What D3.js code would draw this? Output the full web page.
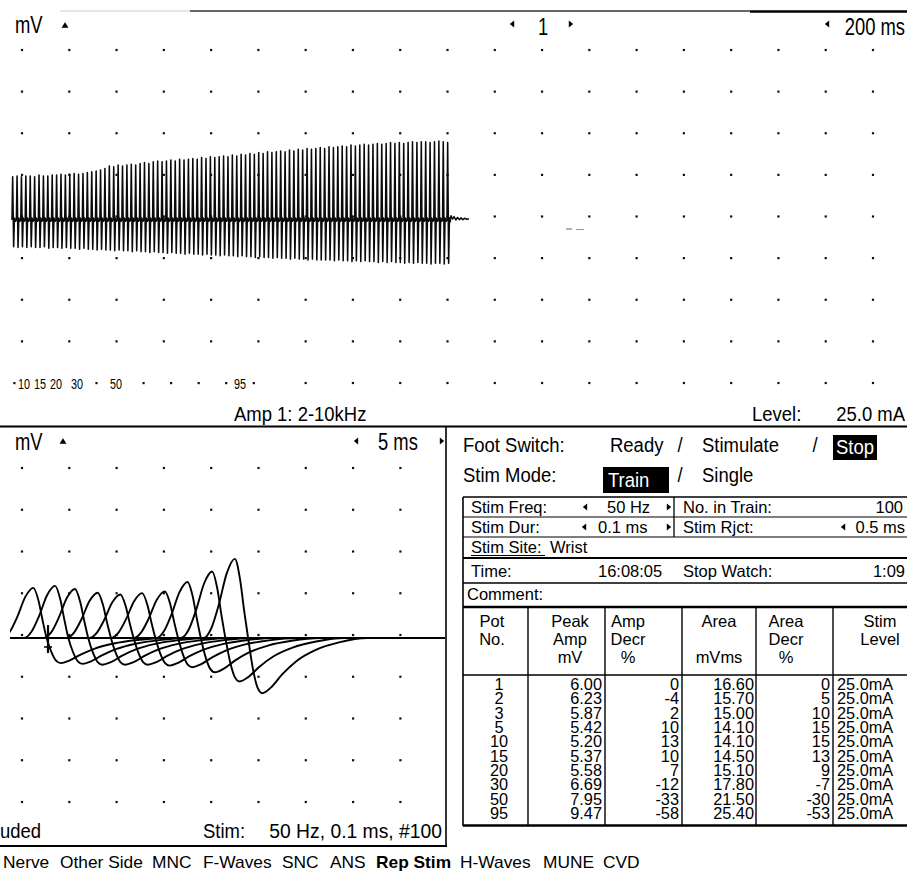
<!DOCTYPE html>
<html><head><meta charset="utf-8">
<script src="https://cdn.jsdelivr.net/npm/d3@7"></script>
<style>html,body{margin:0;padding:0;background:#fff;overflow:hidden}</style>
</head><body>
<svg id="c" width="909" height="872" xmlns="http://www.w3.org/2000/svg"></svg>
<script>
// ================= DATA =================
const potNumbers = [1, 2, 3, 5, 10, 15, 20, 30, 50, 95];
const peakAmp    = [6.00, 6.23, 5.87, 5.42, 5.20, 5.37, 5.58, 6.69, 7.95, 9.47];
const ampDecr    = [0, -4, 2, 10, 13, 10, 7, -12, -33, -58];
const areaVals   = [16.60, 15.70, 15.00, 14.10, 14.10, 14.50, 15.10, 17.80, 21.50, 25.40];
const areaDecr   = [0, 5, 10, 15, 15, 13, 9, -7, -30, -53];
const stimLevel  = ["25.0mA","25.0mA","25.0mA","25.0mA","25.0mA","25.0mA","25.0mA","25.0mA","25.0mA","25.0mA"];

// superimposed responses (lower-left window): peak latency (ms) and negative trough (mV)
const waveLatency = [1.2, 3.5, 5.6, 8.0, 10.4, 12.7, 15.1, 17.5, 20.1, 22.5];
const waveTrough  = [-3.0, -3.1, -3.2, -3.2, -3.2, -3.3, -3.5, -4.1, -5.2, -6.6];

// train of 100 responses (upper window), 20 ms apart: peak and trough (mV)
const trainPeaks = [
5.2,5.3,5.2,5.3,5.3,5.2,5.4,5.3,5.3,5.4,
5.4,5.5,5.4,5.5,5.6,5.5,5.6,5.7,5.8,5.9,
6.0,6.2,6.5,6.4,6.6,6.5,6.6,6.7,6.6,6.8,
6.9,6.8,7.0,7.1,7.0,7.1,7.2,7.1,7.3,7.2,
7.3,7.4,7.3,7.5,7.4,7.6,7.5,7.6,7.7,7.6,
7.8,7.7,7.9,7.8,8.0,7.9,8.1,8.0,8.2,8.1,
8.2,8.3,8.2,8.4,8.3,8.5,8.4,8.6,8.5,8.6,
8.7,8.6,8.8,8.7,8.8,8.9,8.8,9.0,8.9,9.0,
9.1,9.0,9.1,9.2,9.1,9.2,9.3,9.2,9.3,9.2,
9.3,9.4,9.3,9.4,9.4,9.3,9.4,9.5,9.4,9.3];
const trainTroughs = [
-3.2,-3.3,-3.2,-3.3,-3.2,-3.3,-3.3,-3.2,-3.4,-3.3,
-3.3,-3.4,-3.3,-3.4,-3.4,-3.5,-3.4,-3.5,-3.5,-3.6,
-3.5,-3.6,-3.6,-3.7,-3.6,-3.7,-3.7,-3.8,-3.7,-3.8,
-3.8,-3.9,-3.8,-3.9,-3.9,-4.0,-3.9,-4.0,-4.0,-4.1,
-4.0,-4.1,-4.1,-4.2,-4.1,-4.2,-4.2,-4.3,-4.2,-4.3,
-4.3,-4.4,-4.3,-4.4,-4.4,-4.5,-4.4,-4.5,-4.5,-4.6,
-4.5,-4.6,-4.6,-4.7,-4.6,-4.7,-4.7,-4.8,-4.7,-4.8,
-4.8,-4.8,-4.8,-4.9,-4.8,-4.9,-4.9,-5.0,-4.9,-5.0,
-4.9,-5.0,-5.0,-5.1,-5.0,-5.1,-5.0,-5.1,-5.1,-5.2,
-5.1,-5.2,-5.1,-5.2,-5.2,-5.3,-5.2,-5.2,-5.3,-5.2];
const tailTime = [1985, 1992, 1998, 2005, 2012, 2020, 2028, 2036, 2044, 2052, 2060, 2070, 2080];
const tailMv   = [0.4, -0.3, 0.5, 0.1, 0.4, 0.0, 0.3, 0.05, 0.25, 0.05, 0.2, 0.1, 0.15];
// pot markers printed under the train: labelled pots and unlabelled marks
const trainLabels = [10, 15, 20, 30, 50, 95];
const trainMarks  = [7, 40, 60, 70, 80, 90, 100];

const menuItems = ["Nerve","Other Side","MNC","F-Waves","SNC","ANS","Rep Stim","H-Waves","MUNE","CVD"];
const activeMenu = "Rep Stim";

// ================= DRAWING =================
const F = '"Liberation Sans", Arial, Helvetica, sans-serif';
const svg = d3.select('#c');
svg.append('rect').attr('width',909).attr('height',872).attr('fill','#fff');

function T(x, y, s, o = {}) {
  return svg.append('text')
    .attr('transform', `translate(${x},${y}) scale(${o.sx ?? 1},1)`)
    .attr('text-anchor', o.a || 'start')
    .attr('font-family', F)
    .attr('font-size', o.size || 17)
    .attr('font-weight', o.w || 'normal')
    .attr('fill', o.fill || '#000')
    .text(s);
}
function L(x1, y1, x2, y2, w = 1.5, c = '#000') {
  svg.append('line').attr('x1',x1).attr('y1',y1).attr('x2',x2).attr('y2',y2)
    .attr('stroke',c).attr('stroke-width',w);
}
function tri(cx, cy, dir, s = 1) {
  let p;
  if (dir === 'l') p = [[cx+2.2*s,cy-3.5*s],[cx-2.2*s,cy],[cx+2.2*s,cy+3.5*s]];
  else if (dir === 'r') p = [[cx-2.2*s,cy-3.5*s],[cx+2.2*s,cy],[cx-2.2*s,cy+3.5*s]];
  else p = [[cx-3.5*s,cy+2.8*s],[cx,cy-2.8*s],[cx+3.5*s,cy+2.8*s]];
  svg.append('polygon').attr('points', p.map(d=>d.join(',')).join(' ')).attr('fill','#000');
}
const BIG = {size: 23, sx: 0.8};
const MID = {size: 21, sx: 0.88};

// ---------- top window ----------
L(60, 11, 190, 11, 1, '#cfcfcf');
L(190, 11, 750, 11, 1.3, '#333');
L(750, 11.5, 907, 11.5, 2.6, '#000');

const gxTop = d3.scaleLinear().domain([0, 18]).range([22, 873]);
const gyTop = d3.scaleLinear().domain([0, 8]).range([50, 383]);
const dotsTop = [];
d3.range(19).forEach(i => d3.range(9).forEach(j => {
  if (j === 8 && i < 6) return;           // marker row: left part carries the pot labels
  dotsTop.push([gxTop(i), gyTop(j)]);
}));
svg.append('g').selectAll('rect').data(dotsTop).join('rect')
  .attr('x', d => d[0]-1.1).attr('y', d => d[1]-1.1).attr('width', 2.2).attr('height', 2.2).attr('fill', '#111');

T(15, 33, 'mV', BIG);
tri(65, 25, 'u', 1);
tri(512, 24, 'l');
T(543, 35, '1', {...BIG, a: 'middle'});
tri(571, 24, 'r');
tri(827, 24, 'l');
T(905, 35, '200 ms', {...BIG, a: 'end'});

const xTop = d3.scaleLinear().domain([0, 1980]).range([12, 447]);
const yTop = d3.scaleLinear().domain([0, 5]).range([220, 220 - 41.6]);
const trainPts = [];
trainPeaks.forEach((p, i) => {
  const t = i * 20;
  trainPts.push([t, 0], [t + 3, p], [t + 7.5, trainTroughs[i]], [t + 11, 0.25], [t + 16, -0.15]);
});
tailTime.forEach((t, i) => trainPts.push([t, tailMv[i]]));
svg.append('path').attr('d', d3.line().x(d => xTop(d[0])).y(d => yTop(d[1]))(trainPts))
  .attr('fill', 'none').attr('stroke', '#0a0a0a').attr('stroke-width', 1.55).attr('stroke-linejoin','round');

// small speck near the baseline
L(566, 229, 572, 229, 1, '#666'); L(576, 229.5, 584, 229.5, 1, '#999');

// pot markers under the train (marker strip scale, pot number -> x)
const potX = d3.scaleLinear().domain(trainLabels).range([24, 40, 56, 77, 116, 240]);
svg.append('g').selectAll('rect').data(trainMarks).join('rect')
  .attr('x', d => potX(d) - 1.1).attr('y', 382).attr('width', 2.2).attr('height', 2.2).attr('fill', '#111');
svg.append('g').selectAll('text').data(trainLabels).join('text')
  .attr('transform', d => `translate(${potX(d)},389) scale(0.72,1)`)
  .attr('text-anchor', 'middle').attr('font-family', F).attr('font-size', 15).text(d => d);

T(234, 421, 'Amp 1: 2-10kHz', MID);
T(752, 421, 'Level:', MID);
T(905, 421, '25.0 mA', {...MID, a: 'end'});
L(0, 426.5, 907, 426.5, 2.2);

// ---------- lower-left window ----------
L(446, 427, 446, 847, 1.6);
L(0, 846, 447, 846, 2);
T(15, 450, 'mV', BIG);
tri(63, 441, 'u', 1);
tri(356, 441, 'l');
T(378, 450, '5 ms', BIG);
tri(442, 441, 'r');

const gxBot = d3.scaleLinear().domain([0, 8]).range([22, 400.4]);
const gyBot = d3.scaleLinear().domain([0, 8]).range([468, 802]);
const dotsBot = [];
d3.range(9).forEach(i => d3.range(9).forEach(j => dotsBot.push([gxBot(i), gyBot(j)])));
svg.append('g').selectAll('rect').data(dotsBot).join('rect')
  .attr('x', d => d[0]-1.1).attr('y', d => d[1]-1.1).attr('width', 2.2).attr('height', 2.2).attr('fill', '#111');

const xBot = d3.scaleLinear().domain([0, 40]).range([22, 400.4]);
const yBot = d3.scaleLinear().domain([0, 5]).range([638, 638 - 41.8]);
svg.append('clipPath').attr('id', 'clipBot').append('rect').attr('x', 10).attr('y', 430).attr('width', 435).attr('height', 410);
// waveform template: [ms offset from peak, which extreme, fraction]
const tmpl = [[-3.3,'A',0],[-2.5,'A',0.12],[-1.7,'A',0.42],[-0.85,'A',0.82],[0,'A',1],[0.55,'A',0.74],[1.0,'A',0.33],[1.4,'A',0],
  [1.9,'D',0.55],[2.4,'D',0.9],[2.9,'D',1],[3.8,'D',0.9],[5,'D',0.66],[6.5,'D',0.42],[8.5,'D',0.22],[11,'D',0.08],[14,'D',0]];
const wave = d3.line().x(d => xBot(d[0])).y(d => yBot(d[1])).curve(d3.curveMonotoneX);
const gW = svg.append('g').attr('clip-path', 'url(#clipBot)');
peakAmp.forEach((A, i) => {
  const p = waveLatency[i], D = waveTrough[i];
  const pts = [[-2.5, 0]].filter(d => d[0] < p - 3.3);
  tmpl.forEach(([dt, k, f]) => pts.push([p + dt, k === 'A' ? A * f : D * f]));
  pts.push([46, 0]);
  gW.append('path').attr('d', wave(pts)).attr('fill', 'none').attr('stroke', '#000')
    .attr('stroke-width', 1.9).attr('stroke-linejoin', 'round');
});
// cursor marker
L(48, 625, 48, 653, 2.2);
L(44, 647, 52, 647, 1.5);

T(0, 838, 'uded', MID);
T(203, 838, 'Stim:', MID);
T(442, 838, '50 Hz, 0.1 ms, #100', {size: 21, sx: 0.92, a: 'end'});

// ---------- right panel ----------
T(463, 452, 'Foot Switch:', MID);
T(610, 452, 'Ready', MID);
T(680, 452, '/', {...MID, a: 'middle'});
T(702, 452, 'Stimulate', MID);
T(815, 452, '/', {...MID, a: 'middle'});
svg.append('rect').attr('x', 833).attr('y', 435).attr('width', 44).attr('height', 25).attr('fill', '#000');
T(855, 454, 'Stop', {...MID, a: 'middle', fill: '#fff'});

T(463, 482, 'Stim Mode:', MID);
svg.append('rect').attr('x', 603).attr('y', 467).attr('width', 66).attr('height', 26).attr('fill', '#000');
T(608, 487, 'Train', {...MID, fill: '#fff'});
T(680, 482, '/', {...MID, a: 'middle'});
T(702, 482, 'Single', MID);

// table frame
const TL = 463, TR = 907;
L(TL, 497, TR, 497, 1.6);
L(TL, 497, TL, 826, 1.6);
L(TL, 517, TR, 517, 1.2);
L(TL, 537, TR, 537, 1.2);
L(TL, 558, TR, 558, 2);
L(TL, 583, TR, 583, 1.4);
L(TL, 607, TR, 607, 2.4);
L(TL, 675, TR, 675, 1.4);
L(TL, 825.5, TR, 825.5, 2.4);
L(674, 497, 674, 537, 1.3);

const S = {size: 16.5};
T(471, 513, 'Stim Freq:', S);
tri(585, 507, 'l'); T(607, 513, '50 Hz', S); tri(669, 507, 'r');
T(683, 513, 'No. in Train:', S);
T(903, 513, '100', {...S, a: 'end'});
T(471, 533, 'Stim Dur:', S);
tri(584, 527, 'l'); T(598, 533, '0.1 ms', S); tri(669, 527, 'r');
T(683, 533, 'Stim Rjct:', S);
tri(843, 527, 'l'); T(905, 533, '0.5 ms', {...S, a: 'end'});
T(471, 553, 'Stim Site:', S);
L(471, 555.5, 545, 555.5, 1.2);
T(550, 553, 'Wrist', S);
T(471, 577, 'Time:', S);
T(598, 577, '16:08:05', S);
T(683, 577, 'Stop Watch:', S);
T(905, 577, '1:09', {...S, a: 'end'});
T(467, 600, 'Comment:', S);

// results table
const colDiv = [528, 605, 682, 756, 833];
colDiv.forEach(x => L(x, 607, x, 826, 1.4));
const hdr = [
  [492, ['Pot', 'No.', '']],
  [570, ['Peak', 'Amp', 'mV']],
  [628, ['Amp', 'Decr', '%']],
  [719, ['Area', '', 'mVms']],
  [786, ['Area', 'Decr', '%']],
  [880, ['Stim', 'Level', '']]
];
hdr.forEach(([x, lines]) => lines.forEach((s, k) => { if (s) T(x, 627 + k * 18, s, {...S, a: 'middle'}); }));

const D = {size: 16, sx: 1.02};
const rowY = d3.scaleLinear().domain([0, 9]).range([690, 819]);
const fmt2 = d3.format('.2f');
potNumbers.forEach((n, i) => {
  const y = rowY(i);
  T(499, y, String(n), {...D, a: 'middle'});
  T(602, y, fmt2(peakAmp[i]), {...D, a: 'end'});
  T(679, y, String(ampDecr[i]), {...D, a: 'end'});
  T(754, y, fmt2(areaVals[i]), {...D, a: 'end'});
  T(830, y, String(areaDecr[i]), {...D, a: 'end'});
  T(837, y, stimLevel[i], D);
});

// ---------- menu bar ----------
const menuX = [3, 60, 152, 203, 282, 330, 376, 460, 543, 603];
menuItems.forEach((m, i) => {
  T(menuX[i], 868, m, {size: 17, sx: 1.02, w: m === activeMenu ? 'bold' : 'normal'});
});
</script>
</body></html>
